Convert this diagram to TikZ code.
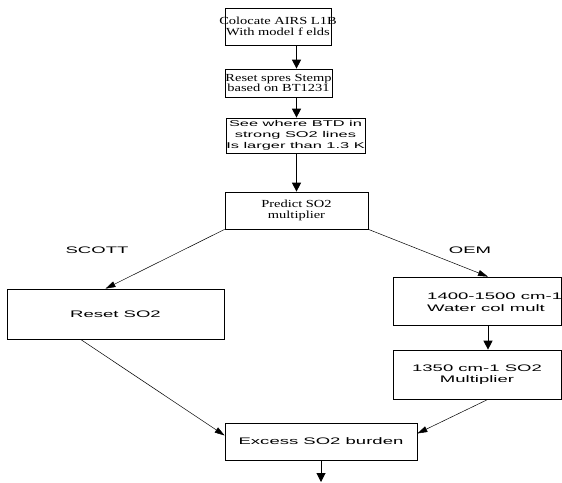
\documentclass[tikz,border=0pt]{standalone}
\usepackage{fontspec}
\newfontfamily\flowsans[FakeStretch=1.95]{Liberation Sans}
\newfontfamily\flowserif[FakeStretch=1.34]{Liberation Serif}
\newcommand{\ctrline}[1]{\makebox[0pt]{#1}}
\usetikzlibrary{arrows.meta}

\begin{document}
\begin{tikzpicture}[x=1pt,y=-1pt,
  sbox/.style={draw,line width=0.7pt,inner sep=0pt,align=center,font=\flowsans\fontsize{9.5}{11.5}\selectfont},
  tbox/.style={draw,line width=0.7pt,inner sep=0pt,align=center,font=\flowserif\fontsize{10.8}{10.5}\selectfont},
  stext/.style={inner sep=0pt,align=left,font=\flowsans\fontsize{9.5}{11.5}\selectfont},
  flow/.style={-{Triangle[length=9pt,width=9pt]},line width=1pt},
  slant/.style={-{Triangle[length=10pt,width=6pt]},line width=0.5pt}]
  \useasboundingbox (0,0) rectangle (562,482);
  \node[tbox,minimum width=106pt,minimum height=37pt] (coloc) at (278,26.5){\ctrline{Colocate AIRS L1B}\\\ctrline{With model f elds}};
  \node[tbox,minimum width=107pt,minimum height=28pt] (spres) at (278.5,83){\ctrline{Reset spres Stemp}\\\ctrline{based on BT1231}};
  \node[sbox,minimum width=139pt,minimum height=35pt,font=\flowsans\fontsize{8.4}{11}\selectfont] (btd) at (295.5,135.5){\ctrline{See where BTD in}\\\ctrline{strong SO2 lines}\\\ctrline{Is larger than 1.3 K}};
  \node[tbox,minimum width=143pt,minimum height=37pt] (predict) at (296.5,210.5){Predict SO2\\multiplier};
  \node[stext] (scott) at (97,250){SCOTT};
  \node[stext] (oem) at (470,250){OEM};
  \node[sbox,minimum width=217pt,minimum height=50pt] (resetso2) at (115.5,314){Reset SO2};
  \node[sbox,minimum width=168pt,minimum height=48pt] (wcol) at (477,301){};
  \node[stext,anchor=west] (wcoltext) at (427,302){1400-1500 cm-1\\Water col mult};
  \node[sbox,minimum width=168pt,minimum height=49pt] (mult) at (477,374.5){1350 cm-1 SO2\\Multiplier};
  \node[sbox,minimum width=192pt,minimum height=37pt] (excess) at (321,441.5){Excess SO2 burden};
  \coordinate (outlet) at (321,482);
  \draw[flow] (coloc.south -| predict) -- (spres.north -| predict);
  \draw[flow] (spres.south -| predict) -- (btd.north -| predict);
  \draw[flow] (btd.south -| predict) -- (predict);
  \draw[slant] (predict.south west) -- ([xshift=-10pt]resetso2.north);
  \draw[slant] (predict.south east) -- ([xshift=11pt]wcol.north);
  \draw[flow] ([xshift=11pt]wcol.south) -- ([xshift=11pt]mult.north);
  \draw[slant] ([xshift=-35pt]resetso2.south) -- ([yshift=6pt]excess.west);
  \draw[slant] ([xshift=11pt]mult.south) -- ([yshift=8pt]excess.east);
  \draw[flow] (excess) -- (outlet);
\end{tikzpicture}
\end{document}
